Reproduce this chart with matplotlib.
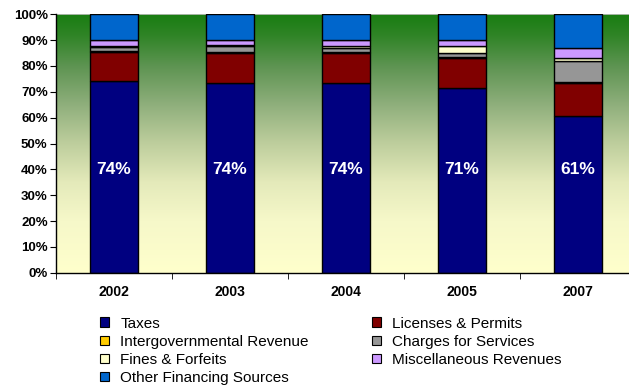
import numpy as np
import matplotlib
matplotlib.use("Agg")
import matplotlib.pyplot as plt
from matplotlib.colors import LinearSegmentedColormap
from matplotlib.patches import Patch

plt.rcParams['font.family'] = ['Liberation Sans', 'DejaVu Sans']

years = ['2002', '2003', '2004', '2005', '2007']
taxes = [74.0, 73.6, 73.5, 71.3, 60.7]
licenses = [11.5, 11.5, 11.7, 11.7, 12.7]
intergov = [0.3, 0.3, 0.3, 0.3, 0.3]
charges = [1.4, 2.3, 1.5, 1.6, 8.2]
fines = [0.5, 0.4, 0.6, 2.8, 1.2]
misc = [2.3, 1.9, 2.3, 2.3, 4.0]
other = [10.0, 10.0, 10.1, 10.0, 12.9]

series_names = ['Taxes', 'Licenses & Permits', 'Intergovernmental Revenue',
                'Charges for Services', 'Fines & Forfeits',
                'Miscellaneous Revenues', 'Other Financing Sources']
series_vals = [taxes, licenses, intergov, charges, fines, misc, other]
colors = ['#000080', '#800000', '#FFCC00', '#969696', '#FFFFCC',
          '#CC99FF', '#0066CC']

fig = plt.figure(figsize=(6.29, 3.87), dpi=100)
W, H = 629, 387
ax = fig.add_axes([56 / W, (H - 272.7) / H, (636 - 56) / W, (272.7 - 14.3) / H])

# background gradient: pale yellow at the bottom to deep green at the top
grad = LinearSegmentedColormap.from_list('bg', [
    (0.00, '#FFFFCC'),
    (0.20, '#F6F8C9'),
    (0.35, '#E4EABA'),
    (0.50, '#BECE9D'),
    (0.65, '#8FAF7C'),
    (0.80, '#5E9452'),
    (0.92, '#2F8426'),
    (1.00, '#197D12'),
])
ax.imshow(np.linspace(0, 1, 256).reshape(-1, 1), cmap=grad, aspect='auto',
          extent=[-0.5, len(years) - 0.5, 0, 100], origin='lower', zorder=0)

x = np.arange(len(years))
bottom = np.zeros(len(years))
for name, vals, c in zip(series_names, series_vals, colors):
    v = np.array(vals)
    ax.bar(x, v, bottom=bottom, width=0.413, color=c, edgecolor='black',
           linewidth=1.0, label=name, zorder=2)
    bottom += v

for xi, t in zip(x, taxes):
    ax.text(xi, 40, f'{t:.0f}%', color='white', fontsize=12.5,
            fontweight='bold', ha='center', va='center', zorder=3)

ax.set_xlim(-0.5, len(years) - 0.5)
ax.set_ylim(0, 100)
ax.set_yticks(np.arange(0, 101, 10))
ax.set_yticklabels([f'{v}%' for v in range(0, 101, 10)], fontsize=9.5,
                   fontweight='bold')
ax.set_xticks(x)
ax.set_xticklabels(years, fontsize=10, fontweight='bold')
ax.tick_params(axis='x', length=0, pad=9)
ax.set_xticks(np.arange(-0.5, len(years), 1), minor=True)
ax.tick_params(axis='x', which='minor', length=4, direction='out')
ax.tick_params(axis='y', length=4, direction='out', pad=2)
for s in ['top', 'right']:
    ax.spines[s].set_visible(False)
ax.spines['left'].set_linewidth(1.0)
ax.spines['bottom'].set_linewidth(1.0)
ax.axhline(100, color='#C0C0C0', linewidth=1.2, zorder=1)

handles = [Patch(facecolor=c, edgecolor='black', linewidth=0.8) for c in colors]
left_idx = [0, 2, 4, 6]
right_idx = [1, 3, 5]
common = dict(frameon=False, fontsize=11, handlelength=0.6, handleheight=0.6,
              handletextpad=0.75, labelspacing=0.27, borderpad=0, loc='upper left')
fig.legend([handles[i] for i in left_idx], [series_names[i] for i in left_idx],
           bbox_to_anchor=(92 / W, 1 - 309 / H), **common)
fig.legend([handles[i] for i in right_idx], [series_names[i] for i in right_idx],
           bbox_to_anchor=(364 / W, 1 - 309 / H), **common)

fig.savefig('out.png', dpi=100)
